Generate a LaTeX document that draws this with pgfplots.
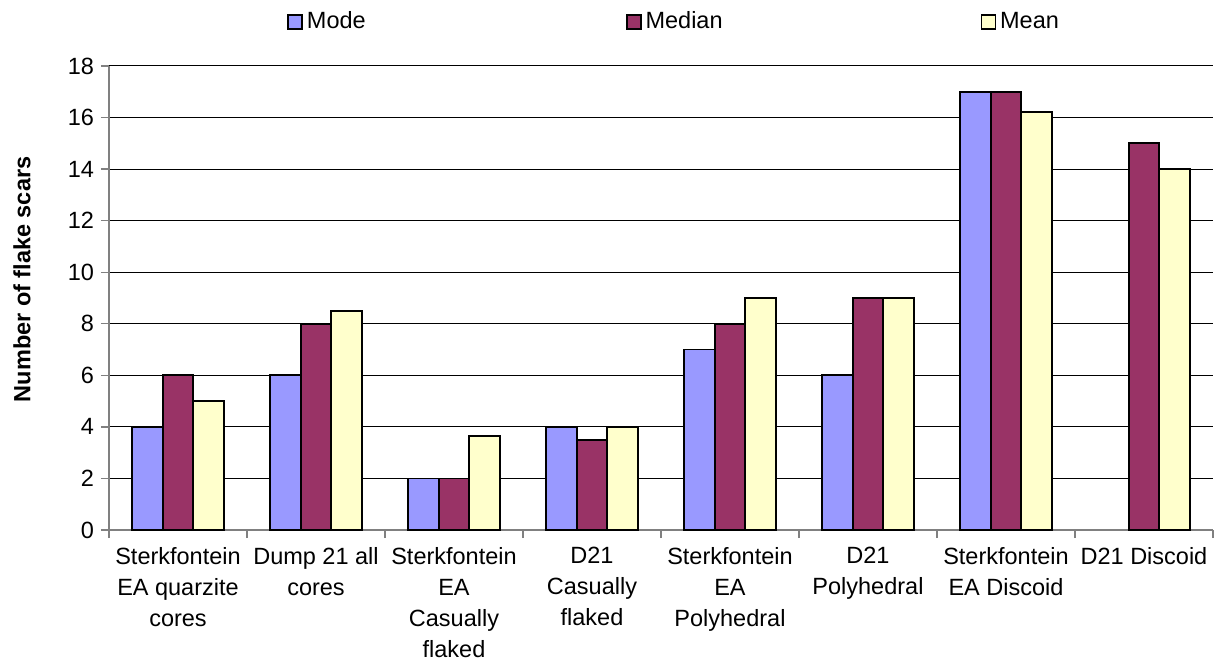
\documentclass[border=0pt]{standalone}
\usepackage{fontspec}
\setmainfont{Liberation Sans}
\usepackage{pgfplots}
\pgfplotsset{compat=1.18}
\definecolor{cmode}{HTML}{9999FF}
\definecolor{cmedian}{HTML}{993366}
\definecolor{cmean}{HTML}{FFFFCC}
\definecolor{axgray}{HTML}{808080}
\begin{document}
\begin{tikzpicture}
\useasboundingbox (-54.5pt,-69.5pt) rectangle (556pt,265pt);
\begin{axis}[
  scale only axis,
  width=552pt, height=232pt,
  font=\fontsize{11.75}{15.5}\selectfont,
  /pgf/number format/assume math mode=true,
  ybar, bar width=0.222,
  xmin=-0.5, xmax=7.5,
  ymin=0, ymax=18,
  ytick={0,2,...,18},
  xtick={-0.5,0.5,...,7.5},
  x tick label as interval=true,
  xticklabels={{Sterkfontein\\EA quarzite\\cores},{Dump 21 all\\cores},{Sterkfontein\\EA\\Casually\\flaked},{D21\\Casually\\flaked},{Sterkfontein\\EA\\Polyhedral},{D21\\Polyhedral},{Sterkfontein\\EA Discoid},{D21 Discoid},{}},
  xticklabel style={align=center, anchor=north, yshift=-1pt},
  axis x line*=bottom, axis y line*=left,
  axis line style={axgray, line width=0.7pt, -},
  tick align=outside,
  major tick length=4pt,
  tick style={axgray, line width=0.7pt},
  ymajorgrids=true,
  major grid style={black, line width=0.5pt},
  ylabel={\bfseries Number of flake scars},
  ylabel style={at={(axis description cs:-0.0788,0.54)}, anchor=center, rotate=0},
  legend columns=3,
  legend style={draw=none, fill=none, inner sep=0pt, at={(axis description cs:0.1612,1.095)}, anchor=west,
    /tikz/every even column/.append style={column sep=3pt}},
  legend image code/.code={\draw[#1, line width=0.8pt] (0pt,-3.4pt) rectangle (7pt,3.4pt);},
]
\addplot[fill=cmode, draw=black, line width=0.9pt, bar shift=-0.222] coordinates {(0,4) (1,6) (2,2) (3,4) (4,7) (5,6) (6,17)};
\addplot[fill=cmedian, draw=black, line width=0.9pt, bar shift=0] coordinates {(0,6) (1,8) (2,2) (3,3.5) (4,8) (5,9) (6,17) (7,15)};
\addplot[fill=cmean, draw=black, line width=0.9pt, bar shift=0.222] coordinates {(0,5) (1,8.5) (2,3.66) (3,4) (4,9) (5,9) (6,16.2) (7,14)};
\addlegendentry{\makebox[154.5pt][l]{Mode}}
\addlegendentry{\makebox[162.5pt][l]{Median}}
\addlegendentry{Mean}
\end{axis}
\end{tikzpicture}
\end{document}
